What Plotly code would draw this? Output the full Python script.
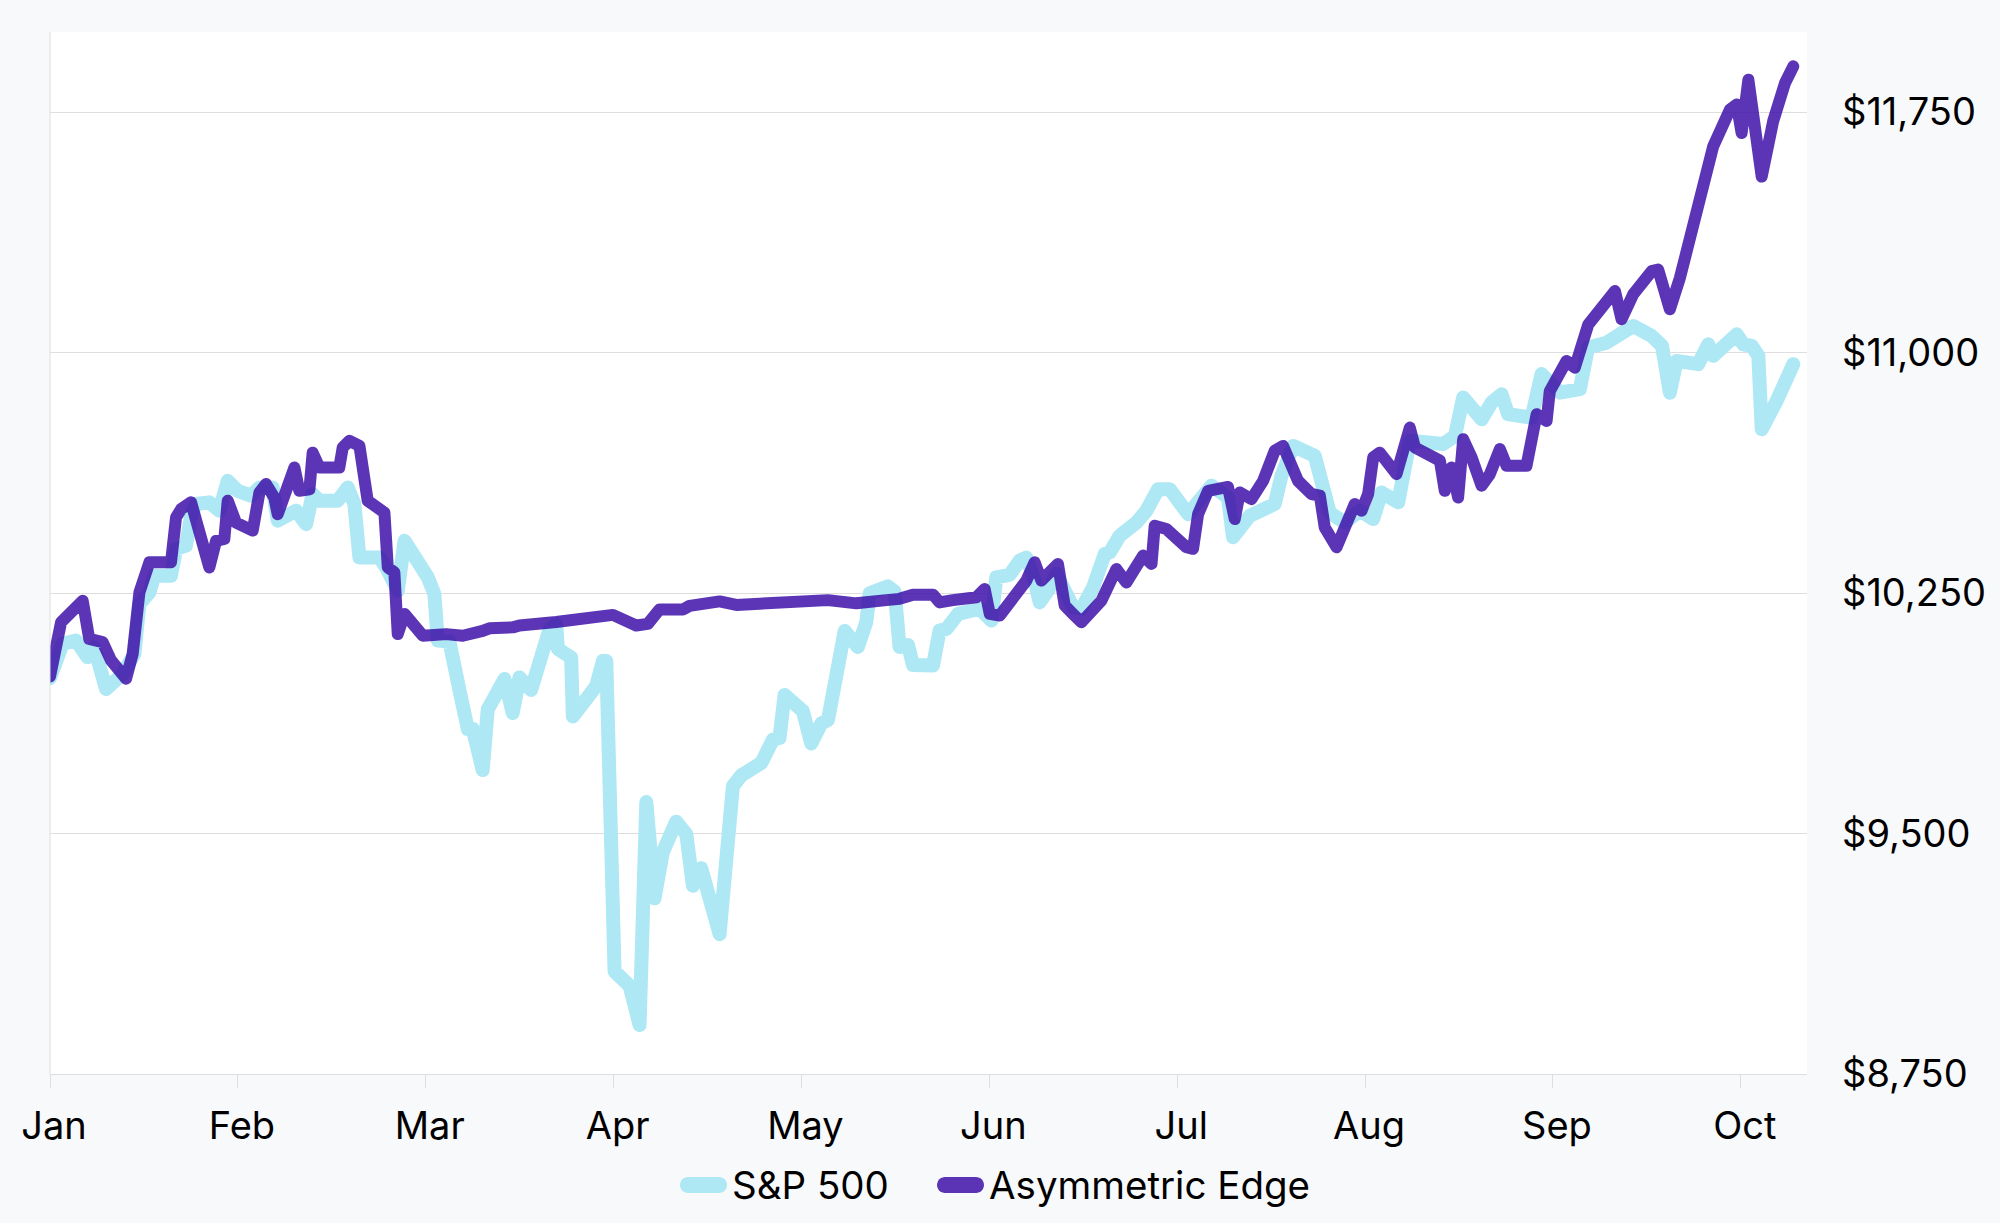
import plotly.graph_objects as go

# x positions are expressed in months since 1 Jan (0 = Jan, 1 = Feb, ...)
month_labels = ["Jan", "Feb", "Mar", "Apr", "May", "Jun", "Jul", "Aug", "Sep", "Oct"]
month_ticks = [0, 1, 2, 3, 4, 5, 6, 7, 8, 9]
y_ticks = [8750, 9500, 10250, 11000, 11750]
y_tick_labels = ["$8,750", "$9,500", "$10,250", "$11,000", "$11,750"]
series_names = ["S&P 500", "Asymmetric Edge"]

sp500_x = [0.000, 0.067, 0.138, 0.200, 0.236, 0.298, 0.387, 0.449, 0.476, 0.529,
           0.555, 0.644, 0.671, 0.724, 0.751, 0.777, 0.848, 0.901, 0.946, 0.999,
           1.070, 1.115, 1.185, 1.212, 1.310, 1.363, 1.398, 1.434, 1.531, 1.585,
           1.620, 1.647, 1.753, 1.789, 1.851, 1.887, 2.011, 2.046, 2.064, 2.126,
           2.179, 2.224, 2.250, 2.303, 2.330, 2.419, 2.463, 2.499, 2.561, 2.659,
           2.694, 2.703, 2.774, 2.783, 2.863, 2.907, 2.943, 2.961, 3.005, 3.085,
           3.138, 3.174, 3.218, 3.262, 3.333, 3.387, 3.422, 3.466, 3.564, 3.590,
           3.635, 3.679, 3.786, 3.848, 3.883, 3.910, 4.007, 4.052, 4.105, 4.141,
           4.230, 4.300, 4.345, 4.363, 4.460, 4.496, 4.522, 4.567, 4.593, 4.700,
           4.735, 4.771, 4.833, 4.948, 5.011, 5.037, 5.108, 5.161, 5.197, 5.241,
           5.268, 5.312, 5.357, 5.445, 5.490, 5.552, 5.614, 5.641, 5.694, 5.783,
           5.836, 5.898, 5.960, 6.058, 6.120, 6.182, 6.270, 6.297, 6.386, 6.519,
           6.555, 6.617, 6.732, 6.812, 6.892, 6.972, 7.043, 7.087, 7.176, 7.238,
           7.415, 7.478, 7.522, 7.620, 7.673, 7.726, 7.761, 7.886, 7.939, 7.975,
           8.037, 8.143, 8.187, 8.285, 8.374, 8.427, 8.525, 8.580, 8.622, 8.658,
           8.773, 8.826, 8.853, 8.907, 8.978, 9.013, 9.058, 9.093, 9.111, 9.191,
           9.235, 9.279]
sp500_y = [9985, 10092, 10102, 10050, 10081, 9951, 9998, 10060, 10216, 10252,
           10304, 10304, 10388, 10398, 10491, 10528, 10533, 10507, 10600, 10569,
           10554, 10579, 10579, 10476, 10507, 10465, 10559, 10538, 10538, 10579,
           10528, 10361, 10361, 10330, 10257, 10413, 10299, 10247, 10102, 10099,
           9948, 9826, 9826, 9698, 9887, 9982, 9876, 9987, 9948, 10137,
           10154, 10076, 10049, 9865, 9926, 9960, 10038, 10038, 9070, 9025,
           8903, 9598, 9298, 9442, 9537, 9498, 9337, 9392, 9186, 9414,
           9648, 9681, 9720, 9793, 9798, 9932, 9882, 9781, 9843, 9854,
           10132, 10082, 10160, 10249, 10271, 10254, 10082, 10088, 10026, 10024,
           10133, 10138, 10185, 10201, 10164, 10299, 10307, 10351, 10361, 10289,
           10221, 10258, 10310, 10206, 10201, 10268, 10372, 10377, 10429, 10470,
           10507, 10574, 10574, 10496, 10548, 10585, 10548, 10424, 10491, 10528,
           10616, 10709, 10678, 10500, 10470, 10507, 10481, 10564, 10533, 10725,
           10715, 10740, 10860, 10792, 10844, 10870, 10808, 10797, 10933, 10912,
           10875, 10886, 11016, 11031, 11062, 11083, 11052, 11021, 10875, 10974,
           10964, 11026, 10990, 11021, 11057, 11026, 11021, 10990, 10761, 10850,
           10922, 10964]

edge_x = [0.000, 0.059, 0.174, 0.209, 0.280, 0.325, 0.405, 0.440, 0.476, 0.529,
          0.644, 0.671, 0.698, 0.751, 0.848, 0.884, 0.928, 0.946, 0.990, 1.079,
          1.115, 1.150, 1.194, 1.212, 1.301, 1.327, 1.381, 1.398, 1.434, 1.540,
          1.558, 1.594, 1.647, 1.691, 1.780, 1.798, 1.833, 1.851, 1.887, 1.984,
          2.109, 2.197, 2.303, 2.339, 2.463, 2.499, 2.694, 2.889, 2.996, 3.120,
          3.182, 3.244, 3.369, 3.404, 3.475, 3.564, 3.653, 3.883, 4.007, 4.043,
          4.096, 4.141, 4.292, 4.363, 4.452, 4.522, 4.593, 4.700, 4.735, 4.806,
          4.931, 4.975, 5.002, 5.055, 5.161, 5.197, 5.241, 5.277, 5.365, 5.401,
          5.445, 5.490, 5.596, 5.676, 5.729, 5.818, 5.863, 5.880, 5.942, 6.049,
          6.084, 6.111, 6.164, 6.270, 6.306, 6.333, 6.395, 6.457, 6.519, 6.563,
          6.643, 6.714, 6.759, 6.785, 6.848, 6.945, 6.981, 7.016, 7.043, 7.078,
          7.167, 7.238, 7.265, 7.300, 7.398, 7.424, 7.460, 7.495, 7.522, 7.567,
          7.620, 7.664, 7.717, 7.753, 7.859, 7.913, 7.966, 7.983, 8.072, 8.116,
          8.188, 8.330, 8.365, 8.427, 8.525, 8.560, 8.622, 8.676, 8.738, 8.800,
          8.853, 8.942, 8.978, 9.004, 9.040, 9.111, 9.172, 9.235, 9.279]
edge_y = [9990, 10159, 10226, 10107, 10097, 10040, 9983, 10060, 10252, 10346,
          10346, 10486, 10512, 10533, 10330, 10413, 10419, 10538, 10470, 10445,
          10564, 10590, 10548, 10496, 10642, 10569, 10574, 10688, 10642, 10642,
          10704, 10725, 10709, 10538, 10501, 10330, 10315, 10122, 10185, 10117,
          10122, 10117, 10132, 10140, 10143, 10149, 10160, 10174, 10182, 10149,
          10154, 10199, 10199, 10210, 10213, 10224, 10213, 10219, 10224, 10232,
          10226, 10228, 10218, 10226, 10228, 10232, 10245, 10245, 10221, 10228,
          10237, 10263, 10185, 10180, 10268, 10289, 10346, 10289, 10341, 10211,
          10185, 10159, 10226, 10325, 10283, 10367, 10341, 10460, 10450, 10393,
          10388, 10496, 10569, 10581, 10481, 10564, 10543, 10600, 10694, 10709,
          10600, 10559, 10554, 10455, 10393, 10528, 10507, 10559, 10673, 10688,
          10621, 10766, 10704, 10694, 10663, 10569, 10642, 10548, 10730, 10673,
          10585, 10621, 10699, 10647, 10647, 10808, 10787, 10880, 10974, 10953,
          11088, 11192, 11104, 11182, 11254, 11259, 11135, 11234, 11369, 11535,
          11644, 11758, 11774, 11685, 11851, 11549, 11722, 11841, 11893]

FONT = "Inter, 'Noto Sans', sans-serif"
GRID = "#dedede"
PAPER = "#f8f9fb"
SP_COLOR = "#ade8f4"
EDGE_COLOR = "rgba(62,18,168,0.85)"

W, H = 2000, 1223
M_L, M_R, M_T, M_B = 50, 193, 32, 149
PW, PH = W - M_L - M_R, H - M_T - M_B


def px_to_paper(px, py):
    return (px - M_L) / PW, (H - M_B - py) / PH


def pill_path(left, cy, w, h):
    """Rounded pill (legend swatch) given in pixel units, returned as paper-space path."""
    r = h / 2.0
    k = 0.5523 * r
    pts = {
        "a": (left + r, cy - r), "b": (left + w - r, cy - r),
        "c1": (left + w - r + k, cy - r), "c2": (left + w, cy - k), "c": (left + w, cy),
        "d1": (left + w, cy + k), "d2": (left + w - r + k, cy + r), "d": (left + w - r, cy + r),
        "e": (left + r, cy + r),
        "f1": (left + r - k, cy + r), "f2": (left, cy + k), "f": (left, cy),
        "g1": (left, cy - k), "g2": (left + r - k, cy - r),
    }
    P = {key: px_to_paper(*val) for key, val in pts.items()}
    s = lambda key: "%.6f,%.6f" % P[key]
    return ("M%s L%s C%s %s %s C%s %s %s L%s C%s %s %s C%s %s %s Z" % (
        s("a"), s("b"), s("c1"), s("c2"), s("c"), s("d1"), s("d2"), s("d"),
        s("e"), s("f1"), s("f2"), s("f"), s("g1"), s("g2"), s("a")))


fig = go.Figure()
fig.add_trace(go.Scatter(
    x=sp500_x, y=sp500_y, mode="lines", name=series_names[0],
    line=dict(color=SP_COLOR, width=14),
))
fig.add_trace(go.Scatter(
    x=edge_x, y=edge_y, mode="lines", name=series_names[1],
    line=dict(color=EDGE_COLOR, width=12),
))

# custom legend (pill swatch + label), positioned under the plot
legend_items = [(680, SP_COLOR, series_names[0]), (937, EDGE_COLOR, series_names[1])]
shapes = [dict(type="line", xref="paper", yref="paper", x0=0, x1=0, y0=0, y1=1,
               line=dict(color=GRID, width=1), layer="above")]
annotations = []
LEG_CY = 1185
for left, color, name in legend_items:
    shapes.append(dict(type="path", xref="paper", yref="paper",
                       path=pill_path(left, LEG_CY, 47, 16),
                       fillcolor=color, line=dict(width=0), layer="above"))
    tx, ty = px_to_paper(left + 50, LEG_CY)
    annotations.append(dict(text=name, xref="paper", yref="paper", x=tx, y=ty,
                            xanchor="left", yanchor="middle", showarrow=False,
                            font=dict(family=FONT, size=38.5, color="#000000")))

fig.update_layout(
    width=W, height=H,
    paper_bgcolor=PAPER, plot_bgcolor="#ffffff",
    margin=dict(l=M_L, r=M_R, t=M_T, b=M_B, autoexpand=False),
    font=dict(family=FONT, size=38, color="#000000"),
    showlegend=False,
    xaxis=dict(
        range=[0, 9.352], tickmode="array", tickvals=month_ticks, ticktext=month_labels,
        showgrid=False, zeroline=False, showline=True, linecolor=GRID, linewidth=1,
        ticks="outside", ticklen=13, tickcolor=GRID, tickwidth=1,
        ticklabelstandoff=5, ticklabelshift=4, automargin=False,
        tickfont=dict(family=FONT, size=38, color="#000000"),
        fixedrange=True,
    ),
    yaxis=dict(
        range=[8750, 12000], side="right", tickmode="array", tickvals=y_ticks,
        ticktext=y_tick_labels, showgrid=True, gridcolor=GRID, gridwidth=1,
        zeroline=False, showline=False, ticks="",
        ticklabelstandoff=34, automargin=False,
        tickfont=dict(family=FONT, size=38, color="#000000"),
        fixedrange=True,
    ),
    shapes=shapes,
    annotations=annotations,
)

post = """
var gd = document.getElementById('{plot_id}');
document.documentElement.style.background = '%s';
document.body.style.margin = '0';
document.body.style.background = '%s';
gd.querySelectorAll('.scatterlayer .js-line').forEach(function(p){
  p.style.strokeLinejoin = 'round'; p.style.strokeLinecap = 'round';
});
""" % (PAPER, PAPER)

fig.write_html("out.html", config={"displayModeBar": False}, post_script=post)
